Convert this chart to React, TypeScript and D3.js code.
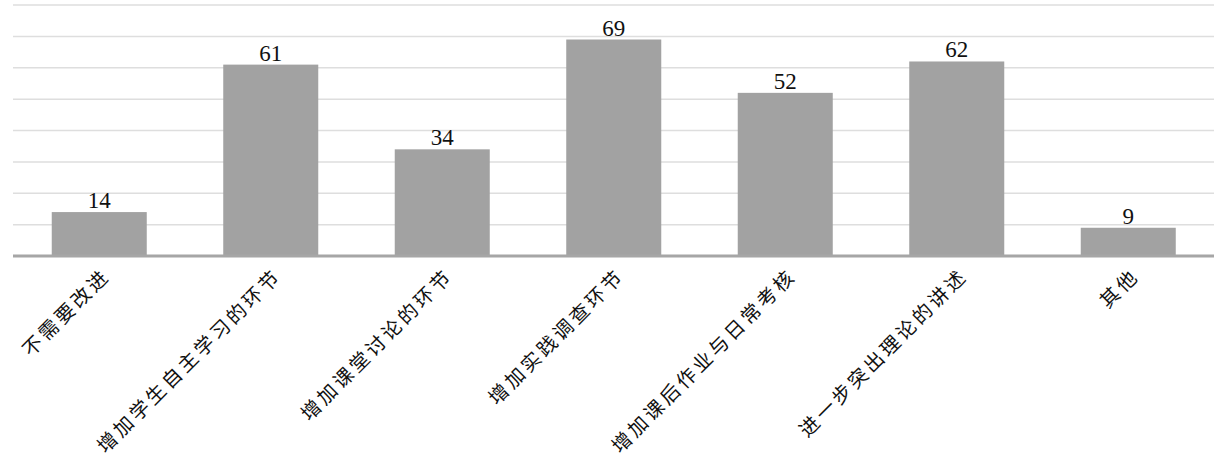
import React from "react";
import * as d3 from "d3";

const categories = ["不需要改进", "增加学生自主学习的环节", "增加课堂讨论的环节", "增加实践调查环节", "增加课后作业与日常考核", "进一步突出理论的讲述", "其他"];
const values = [14, 61, 34, 69, 52, 62, 9];
const gridTicks = [10, 20, 30, 40, 50, 60, 70, 80];

export default function App() {
  const W = 1218, H = 458;
  const x = d3.scaleBand<string>().domain(categories).range([13.5, 1214]).paddingInner(0.446).paddingOuter(0.223);
  const y = d3.scaleLinear().domain([0, 80]).range([256, 5]);
  return (
    <svg width={W} height={H} style={{ position: "absolute", left: 0, top: 0 }}>
      {gridTicks.map((t) => (
        <line key={t} x1={13} x2={1214} y1={y(t)} y2={y(t)} stroke="#dedede" strokeWidth={1.5} />
      ))}
      {categories.map((c, i) => (
        <g key={c}>
          <rect x={x(c)} y={y(values[i])} width={x.bandwidth()} height={y(0) - y(values[i])} fill="#a2a2a2" />
          <text x={x(c)! + x.bandwidth() / 2} y={y(values[i]) - 4} textAnchor="middle" fontFamily="'Liberation Serif', serif" fontSize={23} fill="#111">{values[i]}</text>
          <text transform={`translate(${x(c)! + x.bandwidth() / 2 - 1},${264}) rotate(-45)`} textAnchor="end" dominantBaseline="hanging" fontFamily="'Noto Sans CJK SC', sans-serif" fontSize={19.5} fill="#111" letterSpacing={3.3}>{c}</text>
        </g>
      ))}
      <line x1={13} x2={1214} y1={y(0)} y2={y(0)} stroke="#a6a6a6" strokeWidth={3} />
    </svg>
  );
}
